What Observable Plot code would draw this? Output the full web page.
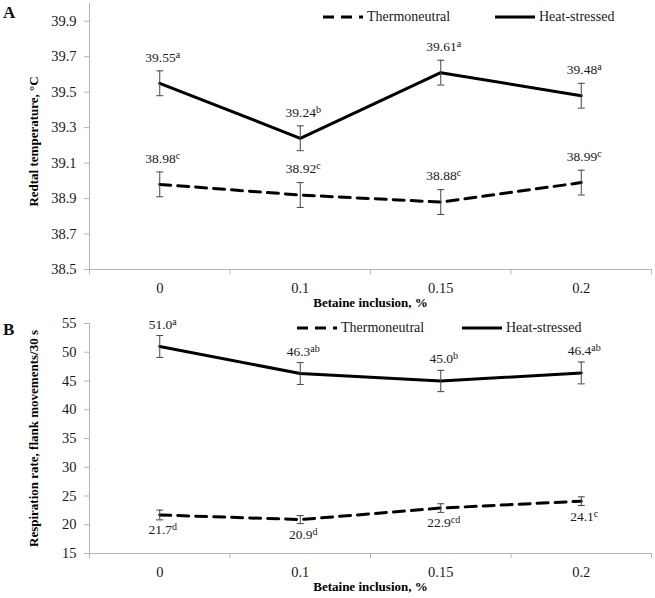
<!DOCTYPE html>
<html>
<head>
<meta charset="utf-8">
<script src="https://cdn.jsdelivr.net/npm/d3@7"></script>
<script src="https://cdn.jsdelivr.net/npm/@observablehq/plot@0.6"></script>
<style>
  body { margin: 0; background: #fff; font-family: "Liberation Serif", "Times New Roman", serif; }
  #wrap { position: relative; width: 655px; height: 598px; overflow: hidden; }
  .panel { position: absolute; left: 0; }
  .tag { position: absolute; font-weight: bold; font-size: 17px; line-height: 17px; color: #111; }
  .leg { position: absolute; display: flex; align-items: center; font-size: 14px; line-height: 18px; color: #1a1a1a; white-space: nowrap; }
  .leg svg { display: block; margin-right: 4px; }
</style>
</head>
<body>
<div id="wrap"></div>
<script>
// ---------- data ----------
const categories = ["0", "0.1", "0.15", "0.2"];
const seriesNames = ["Thermoneutral", "Heat-stressed"];

const tempTN    = [38.98, 38.92, 38.88, 38.99];
const tempTNse  = [0.07, 0.07, 0.07, 0.07];
const tempTNsig = ["c", "c", "c", "c"];
const tempHS    = [39.55, 39.24, 39.61, 39.48];
const tempHSse  = [0.07, 0.07, 0.07, 0.07];
const tempHSsig = ["a", "b", "a", "a"];

const respTN    = [21.7, 20.9, 22.9, 24.1];
const respTNse  = [0.85, 0.7, 0.75, 0.75];
const respTNsig = ["d", "d", "cd", "c"];
const respHS    = [51.0, 46.3, 45.0, 46.4];
const respHSse  = [1.9, 1.9, 1.85, 1.9];
const respHSsig = ["a", "ab", "b", "ab"];

const tempTicks = [38.5, 38.7, 38.9, 39.1, 39.3, 39.5, 39.7, 39.9];
const respTicks = [15, 20, 25, 30, 35, 40, 45, 50, 55];

const xTitle = "Betaine inclusion, %";
const tempTitle = "Redtal temperature, °C";
const respTitle = "Respiration rate, flank movements/30 s";

// ---------- helpers ----------
const axisGray = "#b5b5b5";
const ink = "#1a1a1a";
const capSymbol = {
  draw(ctx, size) {
    const w = Math.sqrt(size / Math.PI);
    ctx.moveTo(-w, 0);
    ctx.lineTo(w, 0);
  }
};

function rows(vals, se, sig, name, digits) {
  return vals.map((v, i) => ({ i, v, se: se[i], sig: sig[i], series: name, label: v.toFixed(digits) + "|" + sig[i] }));
}

function makePanel(o) {
  const tn = rows(o.tn, o.tnSe, o.tnSig, seriesNames[0], o.digits);
  const hs = rows(o.hs, o.hsSe, o.hsSig, seriesNames[1], o.digits);
  const all = tn.concat(hs);
  const svg = Plot.plot({
    width: 655,
    height: o.height,
    marginLeft: 89,
    marginRight: 4,
    marginTop: o.marginTop,
    marginBottom: o.marginBottom,
    style: { fontFamily: "'Liberation Serif', 'Times New Roman', serif", fontSize: "14.5px", color: ink, background: "#fff" },
    x: { type: "linear", domain: [-0.5, categories.length - 0.5], axis: null },
    y: { domain: o.yDomain, axis: null },
    marks: [
      Plot.axisY({ ticks: o.yTicks, tickSize: 5, tickPadding: 8, tickFormat: o.yFormat, label: null, stroke: axisGray, fill: ink, fontSize: 14.5 }),
      Plot.axisX({ ticks: d3.range(categories.length + 1).map(k => k - 0.5), tickSize: 5, tickFormat: () => "", label: null, stroke: axisGray }),
      Plot.axisX({ ticks: d3.range(categories.length), tickSize: 0, tickPadding: 13, tickFormat: k => categories[k], label: null, fill: ink, fontSize: 14.5 }),
      Plot.ruleY([o.yDomain[0]], { stroke: axisGray }),
      Plot.ruleX([-0.5], { stroke: axisGray }),
      Plot.line(tn, { x: "i", y: "v", stroke: "#000", strokeWidth: 3, strokeDasharray: "11,7" }),
      Plot.line(hs, { x: "i", y: "v", stroke: "#000", strokeWidth: 3 }),
      Plot.ruleX(all, { x: "i", y1: d => d.v - d.se, y2: d => d.v + d.se, stroke: "#444", strokeWidth: 1 }),
      Plot.dot(all, { x: "i", y: d => d.v - d.se, symbol: capSymbol, r: 3.5, stroke: "#444", fill: "none", strokeWidth: 1 }),
      Plot.dot(all, { x: "i", y: d => d.v + d.se, symbol: capSymbol, r: 3.5, stroke: "#444", fill: "none", strokeWidth: 1 }),
      Plot.text(hs, { x: "i", y: "v", text: "label", dy: o.hsDy, dx: 3, fontSize: 13.5, fill: ink }),
      Plot.text(tn, { x: "i", y: "v", text: "label", dy: o.tnDy, dx: 3, fontSize: 13.5, fill: ink }),
      Plot.text([o.yTitle], { text: d => d, frameAnchor: "left", textAnchor: "middle", lineAnchor: "middle", rotate: -90, dx: -56, dy: o.yTitleDy, fontWeight: "bold", fontSize: 13, fill: "#000" }),
      Plot.text([xTitle], { text: d => d, frameAnchor: "bottom", textAnchor: "middle", lineAnchor: "middle", dy: 33, fontWeight: "bold", fontSize: 13, fill: "#000" })
    ]
  });
  // superscript significance letters
  svg.querySelectorAll("text").forEach(t => {
    const s = t.textContent;
    if (!s.includes("|")) return;
    const [num, sig] = s.split("|");
    t.textContent = num;
    const ts = document.createElementNS("http://www.w3.org/2000/svg", "tspan");
    ts.setAttribute("font-size", "10");
    ts.setAttribute("dy", "-4");
    ts.textContent = sig;
    t.appendChild(ts);
  });
  return svg;
}

function legend(topPx, items) {
  const frag = document.createDocumentFragment();
  items.forEach(([left, name, dashed]) => {
    const d = document.createElement("div");
    d.className = "leg";
    d.style.left = left + "px";
    d.style.top = topPx + "px";
    d.innerHTML = `<svg width="40" height="6"><line x1="0" y1="3" x2="40" y2="3" stroke="#000" stroke-width="3" ${dashed ? 'stroke-dasharray="11,7"' : ""}/></svg><span>${name}</span>`;
    frag.appendChild(d);
  });
  return frag;
}

// ---------- build ----------
const wrap = document.getElementById("wrap");

const panelA = makePanel({
  tn: tempTN, tnSe: tempTNse, tnSig: tempTNsig,
  hs: tempHS, hsSe: tempHSse, hsSig: tempHSsig,
  digits: 2, yDomain: [38.5, 40.0], yTicks: tempTicks, yFormat: d3.format(".1f"),
  yTitle: tempTitle, yTitleDy: 5,
  height: 310, marginTop: 3, marginBottom: 41,
  hsDy: -26, tnDy: -26
});
panelA.classList.add("panel");
panelA.style.top = "0px";
wrap.appendChild(panelA);

const panelB = makePanel({
  tn: respTN, tnSe: respTNse, tnSig: respTNsig,
  hs: respHS, hsSe: respHSse, hsSig: respHSsig,
  digits: 1, yDomain: [15, 55], yTicks: respTicks, yFormat: d3.format("d"),
  yTitle: respTitle, yTitleDy: 0,
  height: 288, marginTop: 13, marginBottom: 45,
  hsDy: -22, tnDy: 15
});
panelB.classList.add("panel");
panelB.style.top = "310px";
wrap.appendChild(panelB);

wrap.appendChild(legend(8, [[323, seriesNames[0], true], [495, seriesNames[1], false]]));
wrap.appendChild(legend(319, [[297, seriesNames[0], true], [462, seriesNames[1], false]]));

const tA = document.createElement("div");
tA.className = "tag"; tA.textContent = "A"; tA.style.left = "3px"; tA.style.top = "4px";
wrap.appendChild(tA);
const tB = document.createElement("div");
tB.className = "tag"; tB.textContent = "B"; tB.style.left = "3px"; tB.style.top = "321px";
wrap.appendChild(tB);
</script>
</body>
</html>
